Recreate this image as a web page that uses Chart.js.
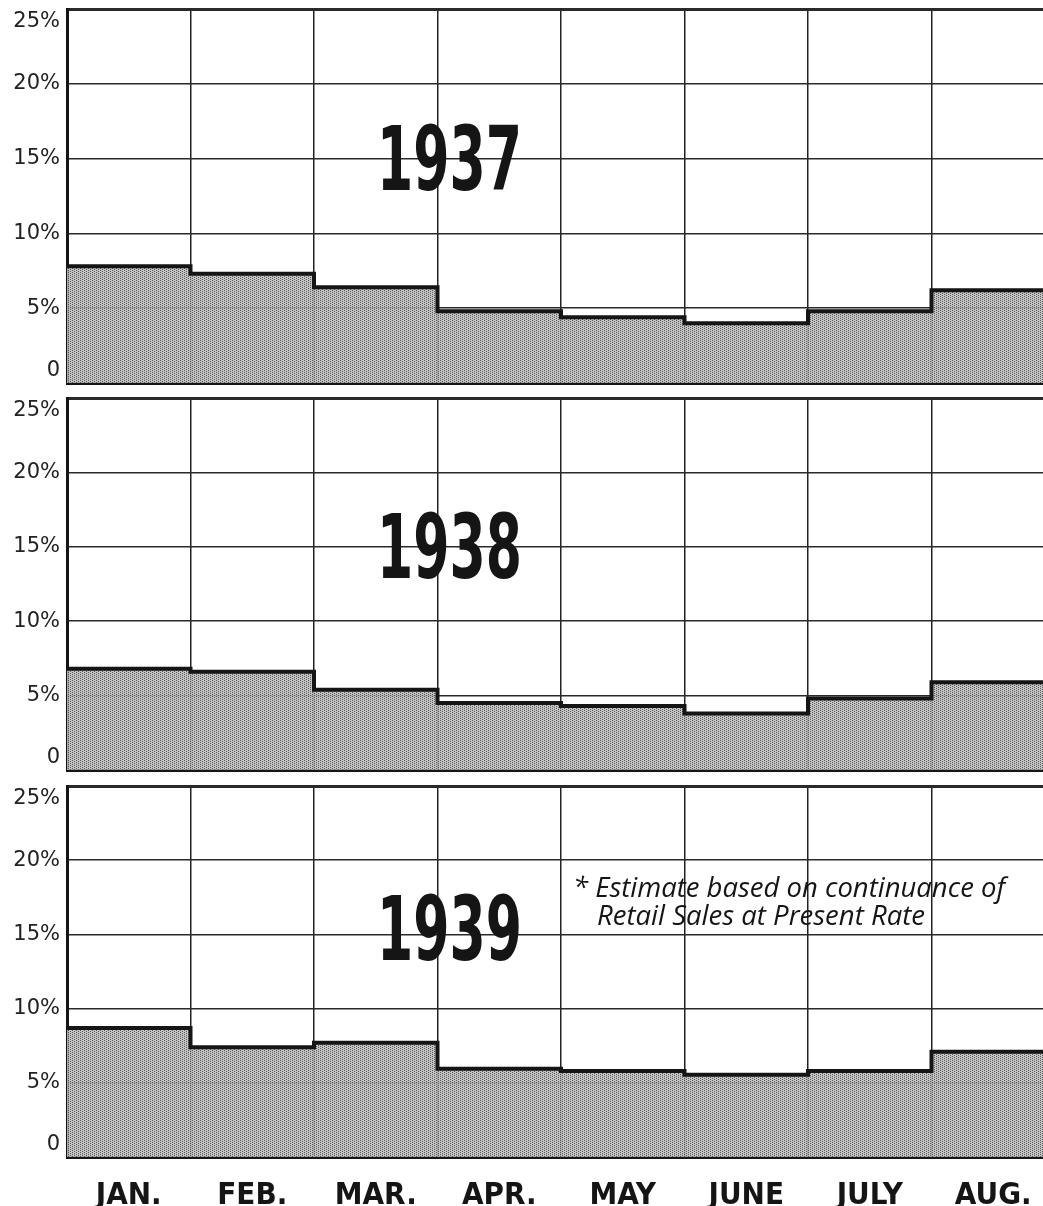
<!DOCTYPE html>
<html>
<head>
<meta charset="utf-8">
<script src="https://cdn.jsdelivr.net/npm/chart.js@4.4.1/dist/chart.umd.min.js"></script>
<style>
  html, body { margin: 0; padding: 0; background: #fff; overflow: hidden; }
  #wrap { position: relative; width: 1043px; height: 1206px; overflow: hidden; }
  .panel { position: absolute; left: 0; }
</style>
</head>
<body>
<div id="wrap">
  <div class="panel" style="top:0"><canvas id="c1937" width="1060" height="390"></canvas></div>
  <div class="panel" style="top:390px"><canvas id="c1938" width="1060" height="390"></canvas></div>
  <div class="panel" style="top:780px"><canvas id="c1939" width="1060" height="426"></canvas></div>
</div>
<script>
// monthly share (%)
const months = ['JAN.', 'FEB.', 'MAR.', 'APR.', 'MAY', 'JUNE', 'JULY', 'AUG.'];
const share1937 = [7.8, 7.3, 6.4, 4.8, 4.4, 4.0, 4.8, 6.2];
const share1938 = [6.8, 6.6, 5.4, 4.5, 4.3, 3.8, 4.8, 5.9];
const share1939 = [8.7, 7.4, 7.7, 5.95, 5.8, 5.55, 5.8, 7.1];
const yTicks = [0, 5, 10, 15, 20, 25];
const noteLines = ['* Estimate based on continuance of', 'Retail Sales at Present Rate'];

const el = (id) => document.getElementById(id);
const INK = '#151515';

// stipple fill like the printed halftone
function stipple() {
  const c = document.createElement('canvas');
  c.width = 4; c.height = 4;
  const g = c.getContext('2d');
  g.fillStyle = 'rgba(188,188,188,0.88)';
  g.fillRect(0, 0, 4, 4);
  g.fillStyle = 'rgba(70,70,70,0.85)';
  [[0, 0], [2, 1], [0, 2], [2, 3]].forEach(([x, y]) => g.fillRect(x, y, 1, 1));
  return g.createPattern(c, 'repeat');
}

// step outline points on a 0..8 linear axis (left edge of each month + right edge)
function stepPoints(vals) {
  const pts = vals.map((v, i) => ({ x: i, y: v }));
  pts.push({ x: vals.length, y: vals[vals.length - 1] });
  return pts;
}

const fitText = (ctx, text, x, y, width) => {
  const w = ctx.measureText(text).width;
  ctx.save();
  ctx.translate(x, y);
  ctx.scale(width / w, 1);
  ctx.fillText(text, 0, 0);
  ctx.restore();
};

const panelText = {
  id: 'panelText',
  afterDatasetsDraw(chart, args, opts) {
    const { ctx, chartArea } = chart;
    ctx.save();
    ctx.fillStyle = INK;
    ctx.textBaseline = 'alphabetic';
    ctx.font = 'bold 89px "Liberation Sans Narrow", "DejaVu Sans Condensed", sans-serif';
    fitText(ctx, opts.year, chartArea.left + 310, chartArea.top + opts.base, 145);
    if (opts.note) {
      ctx.font = 'italic 27px "Open Sans", "DejaVu Sans", sans-serif';
      fitText(ctx, opts.note[0], 573, chartArea.top + 111, 432);
      fitText(ctx, opts.note[1], 597, chartArea.top + 139, 328);
    }
    ctx.restore();
  }
};

function makePanel(id, year, vals, o) {
  return new Chart(el(id).getContext('2d'), {
    type: 'line',
    data: {
      labels: months,
      datasets: [{
        xAxisID: 'xs',
        data: stepPoints(vals),
        stepped: 'before',
        borderColor: INK,
        borderWidth: 4,
        pointRadius: 0,
        fill: 'origin',
        backgroundColor: stipple()
      }]
    },
    options: {
      responsive: false,
      animation: false,
      layout: { padding: { top: o.top, bottom: o.bottom, left: 0, right: 5 } },
      plugins: {
        legend: { display: false },
        tooltip: { enabled: false },
        panelText: { year, base: o.base, note: o.note }
      },
      scales: {
        x: {
          type: 'category',
          offset: true,
          grid: { offset: true, color: '#222', lineWidth: 1.5, drawTicks: false },
          border: { color: INK, width: 3 },
          ticks: {
            display: o.showMonths,
            padding: 20,
            color: INK,
            font: { family: '"Liberation Sans Narrow", "DejaVu Sans Condensed", sans-serif', size: 31, weight: 'bold' }
          },
          afterFit: (s) => { s.height = o.xHeight; s.paddingLeft = 0; s.paddingRight = 0; }
        },
        xs: {
          type: 'linear',
          display: false,
          min: 0,
          max: months.length,
          offset: false
        },
        y: {
          min: 0,
          max: 25,
          afterBuildTicks: (s) => { s.ticks = yTicks.map(v => ({ value: v })); },
          grid: {
            color: '#2a2a2a',
            lineWidth: (c) => (c.tick && c.tick.value === 25 ? 3 : 1.5),
            drawTicks: false
          },
          border: { color: INK, width: 3 },
          ticks: {
            padding: 7,
            color: '#222',
            font: { family: '"DejaVu Sans", sans-serif', size: 21 },
            callback: (v) => (v === 0 ? ['0', ''] : v === 25 ? ['', '25%'] : v + '%')
          },
          afterFit: (s) => { s.width = 67; s.paddingTop = 0; s.paddingBottom = 0; }
        }
      }
    },
    plugins: [panelText]
  });
}

makePanel('c1937', '1937', share1937, { top: 9, bottom: 7, xHeight: 0, showMonths: false, base: 181 });
makePanel('c1938', '1938', share1938, { top: 8, bottom: 10, xHeight: 0, showMonths: false, base: 180 });
makePanel('c1939', '1939', share1939, { top: 6, bottom: 0, xHeight: 49, showMonths: true, base: 174, note: noteLines });
</script>
</body>
</html>
